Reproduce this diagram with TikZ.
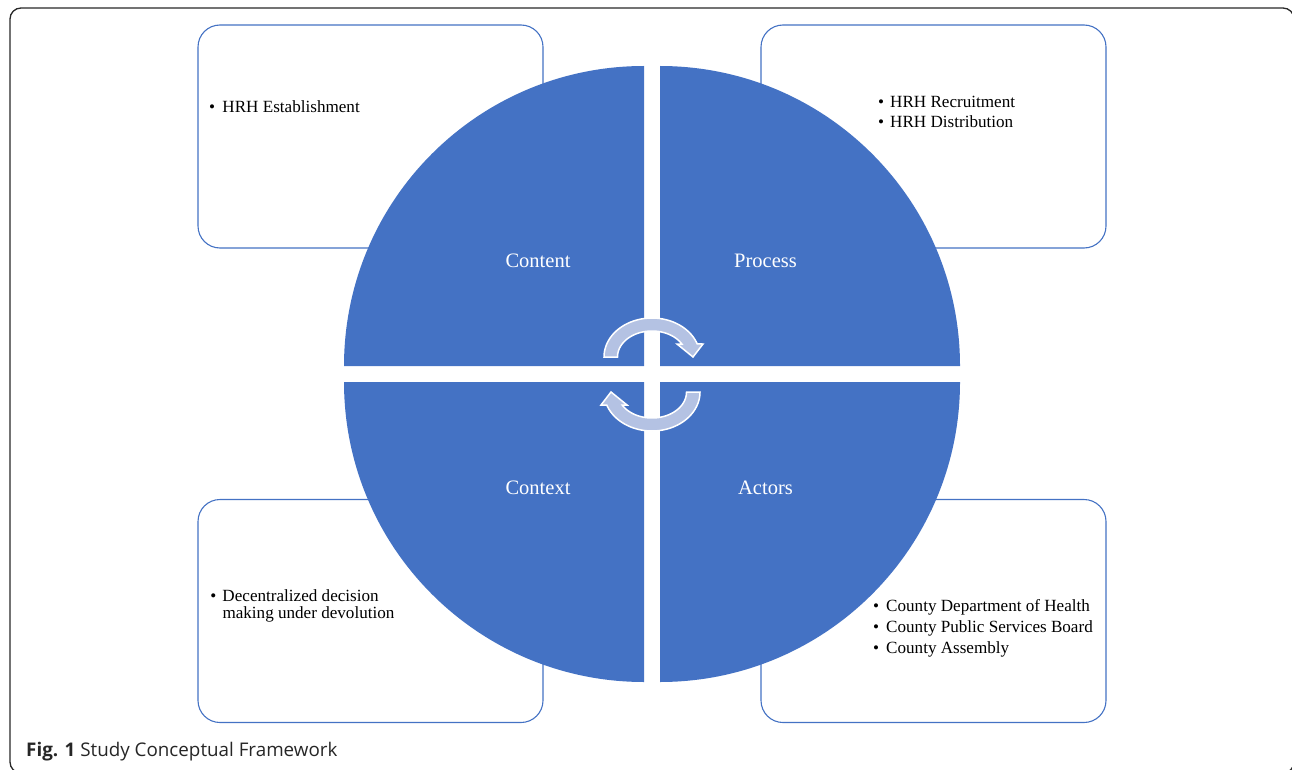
\documentclass[tikz,border=0pt]{standalone}
\usepackage{fontspec}
\setmainfont{Liberation Serif}
\newfontfamily\capfont{Open Sans}
\definecolor{qblue}{RGB}{68,114,196}
\definecolor{arrowfill}{RGB}{180,194,227}
\definecolor{framec}{RGB}{40,40,40}
\begin{document}
\begin{tikzpicture}[x=1pt,y=-1pt,
  box/.style={draw=qblue, line width=1.1pt, rounded corners=22pt, fill=white, minimum width=345pt, minimum height=223pt, inner sep=0pt},
  quad/.style={fill=qblue},
  lbl/.style={text=white, font=\fontsize{20.5}{24}\selectfont, anchor=base, inner sep=0pt},
  item/.style={anchor=base west, inner sep=0pt, font=\fontsize{17.1}{20}\selectfont},
  cyc/.style={fill=arrowfill, draw=white, line width=1.5pt, line join=miter},
  capstyle/.style={anchor=base west, inner sep=0pt, font=\capfont\fontsize{18.8}{22}\selectfont, text=black!85}
]
\useasboundingbox (0,0) rectangle (1292,770);
% outer frame
\draw[framec, line width=1.3pt, rounded corners=11pt] (10,8) rectangle (1294,773);

% boxes
\node[box] (boxtl) at (370.5,136.5) {};
\node[box] (boxtr) at (933.5,136.5) {};
\node[box] (boxbl) at (370.5,611) {};
\node[box] (boxbr) at (933.5,611) {};

% quarter discs
\fill[quad] (644,366) -- (344,366) arc[start angle=180, end angle=90, radius=300pt] -- cycle;
\fill[quad] (660,366) -- (660,66) arc[start angle=90, end angle=0, radius=300pt] -- cycle;
\fill[quad] (644,382) -- (644,682) arc[start angle=270, end angle=180, radius=300pt] -- cycle;
\fill[quad] (660,382) -- (960,382) arc[start angle=0, end angle=-90, radius=300pt] -- cycle;

% quadrant labels
\node[lbl] (content) at (538,267) {Content};
\node[lbl] (process) at (765.5,267) {Process};
\node[lbl] (context) at (538,494.3) {Context};
\node[lbl] (actors) at (765.5,494.3) {Actors};

% cycle arrows
\path[cyc] (617.5,357) -- plot[domain=180:19.5, samples=60] ({652+48*cos(\x)},{357-39*sin(\x)}) -- (703,344) -- (693,357) -- (677,344) -- plot[domain=30:180, samples=60] ({652+34.5*cos(\x)},{357-26*sin(\x)}) -- cycle;
\begin{scope}[rotate around={180:(652,374.5)}]
\path[cyc] (617.5,357) -- plot[domain=180:19.5, samples=60] ({652+48*cos(\x)},{357-39*sin(\x)}) -- (703,344) -- (693,357) -- (677,344) -- plot[domain=30:180, samples=60] ({652+34.5*cos(\x)},{357-26*sin(\x)}) -- cycle;
\end{scope}

% box texts
\node[item] (tl1) at (209,112.7) {\makebox[13.3pt][l]{•}HRH Establishment};
\node[item] (tr1) at (877.8,107.3) {\makebox[12.2pt][l]{•}HRH Recruitment};
\node[item] (tr2) at (877.8,127.9) {\makebox[12.2pt][l]{•}HRH Distribution};
\node[item] (bl1) at (210.2,601.7) {\makebox[12.1pt][l]{•}Decentralized decision};
\node[item] (bl2) at (222.3,618.5) {making under devolution};
\node[item] (br1) at (873,611) {\makebox[13pt][l]{•}County Department of Health};
\node[item] (br2) at (873,632) {\makebox[13pt][l]{•}County Public Services Board};
\node[item] (br3) at (873,653) {\makebox[13pt][l]{•}County Assembly};

% caption
\node[capstyle] (caption) at (26,756) {\textbf{Fig. 1} Study Conceptual Framework};
\end{tikzpicture}
\end{document}
